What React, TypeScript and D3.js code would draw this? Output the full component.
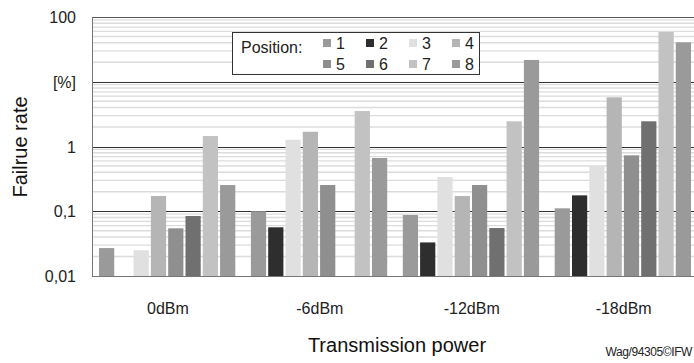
import { useRef, useEffect } from 'react';
import * as d3 from 'd3';

const powers = ['0dBm', '-6dBm', '-12dBm', '-18dBm'];
const positions = ['1', '2', '3', '4', '5', '6', '7', '8'];

// failure rate in % per position, one array per transmission power
const rate0 = [0.027, null, 0.025, 0.172, 0.0545, 0.0845, 1.45, 0.254];
const rate6 = [0.1, 0.0565, 1.27, 1.69, 0.254, null, 3.53, 0.664];
const rate12 = [0.0875, 0.033, 0.338, 0.172, 0.254, 0.0551, 2.45, 21.7];
const rate18 = [0.111, 0.176, 0.5, 5.75, 0.73, 2.45, 58.6, 40.6];

const yTicks = [0.01, 0.1, 1, 10, 100];
const yTickLabels = ['0,01', '0,1', '1', '[%]', '100'];

const colors = ['#9a9a9a', '#2e2e2e', '#e0e0e0', '#b5b5b5', '#8f8f8f', '#707070', '#c2c2c2', '#9a9a9a'];

const App = () => {
  const svgRef = useRef<SVGSVGElement>(null);

  useEffect(() => {
    const svg = d3.select(svgRef.current);
    svg.selectAll('*').remove();
    const font = 'Liberation Sans, Arial, sans-serif';

    const left = 92, top = 17, bottom = 276, right = 699.6;
    const rates = [rate0, rate6, rate12, rate18];

    const x0 = d3.scaleBand().domain(powers).range([left, right]).padding(0);
    const x1 = d3.scaleBand().domain(positions).range([7, 143.3]).paddingInner(0.12);
    const y = d3.scaleLog().domain([0.01, 100]).range([bottom, top]);

    // minor grid
    const minor: number[] = [];
    [0.01, 0.1, 1, 10].forEach(d => { for (let k = 2; k <= 9; k++) minor.push(d * k); });
    svg.append('g').selectAll('line').data(minor).enter().append('line')
      .attr('x1', left).attr('x2', 694)
      .attr('y1', d => y(d)).attr('y2', d => y(d))
      .attr('stroke', '#dcdcdc').attr('stroke-width', 1.3);

    // major grid
    svg.append('g').selectAll('line').data(yTicks.slice(1)).enter().append('line')
      .attr('x1', left).attr('x2', 694)
      .attr('y1', d => Math.round(y(d)) + 0.5).attr('y2', d => Math.round(y(d)) + 0.5)
      .attr('stroke', d => d === 100 ? '#555' : '#333').attr('stroke-width', 1);

    // bars
    const groups = svg.append('g').selectAll('g').data(powers).enter().append('g')
      .attr('transform', d => `translate(${x0(d)},0)`);
    groups.selectAll('rect')
      .data((_, gi) => positions.map((p, i) => ({ p, i, v: rates[gi][i] })).filter(d => d.v != null))
      .enter().append('rect')
      .attr('x', d => x1(d.p) as number)
      .attr('width', x1.bandwidth())
      .attr('y', d => y(d.v as number))
      .attr('height', d => bottom - y(d.v as number))
      .attr('fill', d => colors[d.i]);

    // axes lines
    svg.append('line').attr('x1', left + 0.5).attr('x2', left + 0.5).attr('y1', top).attr('y2', bottom + 0.5)
      .attr('stroke', '#777').attr('stroke-width', 1);
    svg.append('line').attr('x1', left).attr('x2', 694).attr('y1', bottom + 0.5).attr('y2', bottom + 0.5)
      .attr('stroke', '#777').attr('stroke-width', 1);

    // y tick labels
    svg.append('g').selectAll('text').data(yTicks).enter().append('text')
      .attr('x', 76).attr('y', d => y(d) + 6)
      .attr('text-anchor', 'end').attr('font-family', font).attr('font-size', 16).attr('fill', '#222')
      .text((_, i) => yTickLabels[i]);

    // x tick labels
    svg.append('g').selectAll('text').data(powers).enter().append('text')
      .attr('x', d => (x0(d) as number) + x0.bandwidth() / 2).attr('y', 314)
      .attr('text-anchor', 'middle').attr('font-family', font).attr('font-size', 16).attr('fill', '#222')
      .text(d => d);

    // titles
    svg.append('text').attr('transform', 'translate(27,147) rotate(-90)')
      .attr('text-anchor', 'middle').attr('font-family', font).attr('font-size', 20).attr('fill', '#111')
      .text('Failrue rate');
    svg.append('text').attr('x', 397).attr('y', 352)
      .attr('text-anchor', 'middle').attr('font-family', font).attr('font-size', 20).attr('fill', '#111')
      .text('Transmission power');
    svg.append('text').attr('x', 692).attr('y', 356)
      .attr('text-anchor', 'end').attr('font-family', font).attr('font-size', 12).attr('fill', '#222')
      .attr('letter-spacing', -0.4)
      .text('Wag/94305©IFW');

    // legend
    const lg = svg.append('g');
    lg.append('rect').attr('x', 232.5).attr('y', 32.5).attr('width', 247).attr('height', 42)
      .attr('fill', '#fff').attr('stroke', '#333').attr('stroke-width', 1);
    lg.append('text').attr('x', 241).attr('y', 53).attr('font-family', font).attr('font-size', 16).attr('fill', '#222')
      .text('Position:');
    const items = lg.selectAll('g.item').data(positions).enter().append('g')
      .attr('transform', (_, i) => `translate(${323 + (i % 4) * 43},${i < 4 ? 43 : 64})`);
    items.append('rect').attr('x', 0).attr('y', -4).attr('width', 8).attr('height', 8)
      .attr('fill', (_, i) => colors[i]);
    items.append('text').attr('x', 13).attr('y', 6).attr('font-family', font).attr('font-size', 16).attr('fill', '#222')
      .text(d => d);
  }, []);

  return <svg ref={svgRef} width={694} height={363} style={{ position: 'absolute', left: 0, top: 0, background: '#fff' }}></svg>;
};

export default App;
